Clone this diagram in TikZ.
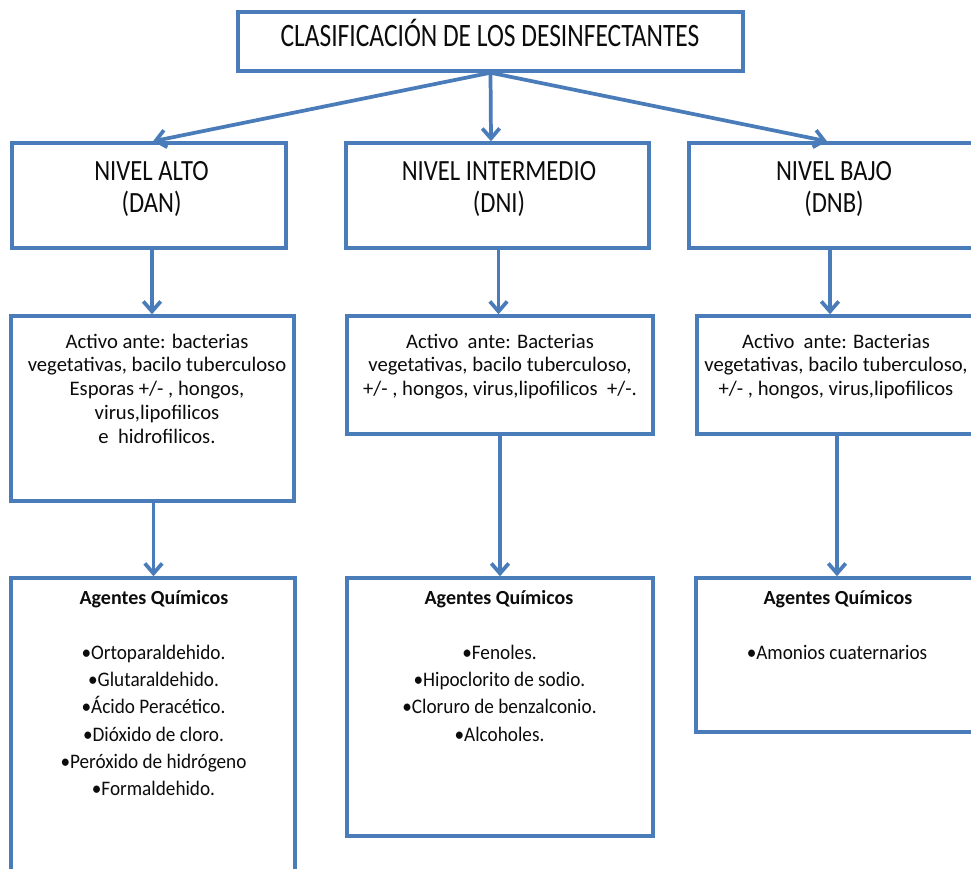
\documentclass[tikz,border=0pt]{standalone}
\usepackage{fontspec}
\setmainfont{Carlito}
\newfontfamily\headfont[FakeStretch=0.78]{Carlito}
\newfontfamily\levelfont[FakeStretch=0.84]{Carlito}
\newfontfamily\listfont[FakeStretch=0.93]{Carlito}
\usetikzlibrary{arrows.meta,fit}
\definecolor{boxblue}{RGB}{74,124,186}
\definecolor{ink}{RGB}{12,12,12}
\begin{document}
\begin{tikzpicture}[x=0.75pt,y=-0.75pt,
  box/.style={draw=boxblue, line width=2.6pt, inner sep=0pt},
  arr/.style={draw=boxblue, line width=2.8pt, -{Straight Barb[length=7.5pt,width=13pt]}},
  titletxt/.style={font={\headfont\fontsize{24.5}{28}\selectfont}, text=ink, inner sep=0pt, anchor=base, align=center},
  leveltxt/.style={font={\levelfont\fontsize{22}{24}\selectfont}, text=ink, inner sep=0pt, anchor=base, align=center},
  acttxt/.style={font={\fontsize{15.5}{17.8}\selectfont}, text=ink, inner sep=0pt, anchor=base, align=center},
  agthead/.style={font={\bfseries\fontsize{15}{17}\selectfont}, text=ink, inner sep=0pt, anchor=base, align=center},
  agtlist/.style={font={\listfont\fontsize{15.5}{20.5}\selectfont}, text=ink, inner sep=0pt, anchor=base, align=center}]

% page frame
\useasboundingbox (0,0) rectangle (971,868);
\fill[white] (0,0) rectangle (971,868);
\clip (0,0) rectangle (971,868);

% boxes
\node[box, fit={(238,12) (743,71)}] (title) {};
\node[box, fit={(12,143) (286,248)}] (lvl1) {};
\node[box, fit={(346,143) (649,248)}] (lvl2) {};
\node[box, fit={(689,143) (990,248)}] (lvl3) {};
\node[box, fit={(11,316) (294,501)}] (act1) {};
\node[box, fit={(347,316) (653,434)}] (act2) {};
\node[box, fit={(697,316) (990,434)}] (act3) {};
\node[box, fit={(11,578) (295,900)}] (agt1) {};
\node[box, fit={(347,578) (653,836)}] (agt2) {};
\node[box, fit={(696,578) (990,732)}] (agt3) {};

% columns of the connectors
\coordinate (tL) at (153,0);
\coordinate (tM) at (491,0);
\coordinate (tR) at (827,0);
\coordinate (mL) at (152,0);
\coordinate (mM) at (498.5,0);
\coordinate (mR) at (830,0);
\coordinate (bL) at (153.5,0);
\coordinate (bM) at (500,0);
\coordinate (bR) at (837,0);

% connectors
\draw[arr] (title.south) -- (lvl1.north -| tL);
\draw[arr] (title.south) -- (lvl2.north -| tM);
\draw[arr] (title.south) -- (lvl3.north -| tR);
\draw[arr] (lvl1.south -| mL) -- (act1.north -| mL);
\draw[arr] (lvl2.south -| mM) -- (act2.north -| mM);
\draw[arr] (lvl3.south -| mR) -- (act3.north -| mR);
\draw[arr] (act1.south -| bL) -- (agt1.north -| bL);
\draw[arr] (act2.south -| bM) -- (agt2.north -| bM);
\draw[arr] (act3.south -| bR) -- (agt3.north -| bR);

% texts (each placed by the baseline of its last line)
\node[titletxt] (ttl) at (490,46) {CLASIFICACIÓN DE LOS DESINFECTANTES};

\node[leveltxt] (l1t) at (151.5,212.7) {NIVEL ALTO\\(DAN)};
\node[leveltxt] (l2t) at (499,212.7) {NIVEL INTERMEDIO\\(DNI)};
\node[leveltxt] (l3t) at (834,212.7) {NIVEL BAJO\\(DNB)};

\node[acttxt] (a1t) at (157,443.1) {Activo ante: bacterias\\vegetativas, bacilo tuberculoso\\Esporas +/- , hongos,\\virus,lipofilicos\\e\ \ hidrofilicos.};
\node[acttxt] (a2t) at (500,395.7) {Activo\ \ ante: Bacterias\\vegetativas, bacilo tuberculoso,\\+/- , hongos, virus,lipofilicos\ \ +/-.};
\node[acttxt] (a3t) at (836,395.7) {Activo\ \ ante: Bacterias\\vegetativas, bacilo tuberculoso,\\+/- , hongos, virus,lipofilicos};

\node[agthead] (h1t) at (154,604.7) {Agentes Químicos};
\node[agthead] (h2t) at (499,604.7) {Agentes Químicos};
\node[agthead] (h3t) at (838,604.7) {Agentes Químicos};

\node[agtlist] (g1t) at (153.5,795.8) {•Ortoparaldehido.\\•Glutaraldehido.\\•Ácido Peracético.\\•Dióxido de cloro.\\•Peróxido de hidrógeno\\•Formaldehido.};
\node[agtlist] (g2t) at (499.5,741.2) {•Fenoles.\\•Hipoclorito de sodio.\\•Cloruro de benzalconio.\\•Alcoholes.};
\node[agtlist] (g3t) at (837,659.3) {•Amonios cuaternarios};
\end{tikzpicture}
\end{document}
